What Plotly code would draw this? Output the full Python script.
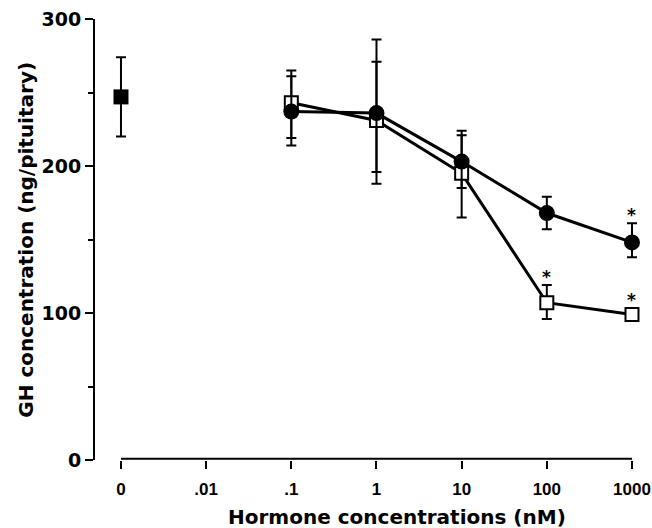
import plotly.graph_objects as go

# ---- data ----
tick_labels = ["0", ".01", ".1", "1", "10", "100", "1000"]

control_x = ["0"]
control_y = [247]
control_err = [27]

open_x = [".1", "1", "10", "100", "1000"]
open_y = [243, 231, 195, 107, 99]
open_err_plus = [22, 40, 29, 12, 0]
open_err_minus = [24, 35, 30, 11, 0]
open_sig = [False, False, False, True, True]

filled_x = [".1", "1", "10", "100", "1000"]
filled_y = [237, 236, 203, 168, 148]
filled_err_plus = [24, 50, 18, 11, 13]
filled_err_minus = [23, 48, 18, 11, 10]
filled_sig = [False, False, False, False, True]

FONT = "DejaVu Sans"
idx = {lab: i for i, lab in enumerate(tick_labels)}

fig = go.Figure()

fig.add_trace(go.Scatter(
    x=[idx[v] for v in control_x], y=control_y, mode="markers",
    marker=dict(symbol="square", size=15, color="black"),
    error_y=dict(type="data", array=control_err, color="black", thickness=2, width=5),
    cliponaxis=False, showlegend=False))

fig.add_trace(go.Scatter(
    x=[idx[v] for v in open_x], y=open_y, mode="lines+markers",
    line=dict(color="black", width=3),
    marker=dict(symbol="square", size=13, color="white", line=dict(color="black", width=2)),
    error_y=dict(type="data", array=open_err_plus, arrayminus=open_err_minus,
                 color="black", thickness=2, width=5),
    cliponaxis=False, showlegend=False))

fig.add_trace(go.Scatter(
    x=[idx[v] for v in filled_x], y=filled_y, mode="lines+markers",
    line=dict(color="black", width=3),
    marker=dict(symbol="circle", size=16, color="black"),
    error_y=dict(type="data", array=filled_err_plus, arrayminus=filled_err_minus,
                 color="black", thickness=2, width=5),
    cliponaxis=False, showlegend=False))

# significance asterisks
for xs, ys, ep, sig in [(open_x, open_y, open_err_plus, open_sig),
                        (filled_x, filled_y, filled_err_plus, filled_sig)]:
    for xv, yv, e, s in zip(xs, ys, ep, sig):
        if s:
            fig.add_annotation(x=idx[xv], y=yv + e, text="*", showarrow=False,
                               yanchor="bottom", yshift=(-4 if e > 0 else 2),
                               font=dict(family=FONT, size=17, color="black", weight="bold"))

# x axis line spanning only the categories
fig.add_shape(type="line", xref="x", yref="paper", x0=0, x1=len(tick_labels) - 1,
              y0=0.003, y1=0.003, line=dict(color="black", width=2))

fig.add_annotation(text="Hormone concentrations (nM)", xref="paper", yref="paper",
                   x=0.554, y=-0.129, xanchor="center", yanchor="middle", showarrow=False,
                   font=dict(family=FONT, size=20, color="black", weight="bold"))
fig.add_annotation(text="GH concentration (ng/pituitary)", xref="paper", yref="paper",
                   x=-0.128, y=0.5, xanchor="center", yanchor="middle", showarrow=False,
                   textangle=-90,
                   font=dict(family=FONT, size=20, color="black", weight="bold"))

fig.update_layout(
    width=652, height=528,
    margin=dict(l=95, r=12, t=19, b=68, autoexpand=False),
    plot_bgcolor="white", paper_bgcolor="white",
    font=dict(family=FONT, color="black"),
    xaxis=dict(range=[-0.305, 6.094], tickmode="array",
               tickvals=list(range(len(tick_labels))), ticktext=tick_labels,
               ticks="outside", ticklen=8, tickwidth=2, tickcolor="black",
               showline=False, showgrid=False, zeroline=False,
               ticklabelstandoff=6, ticklabeloverflow="allow", automargin=False,
               tickfont=dict(family="Liberation Sans", size=17, color="black", weight="bold")),
    yaxis=dict(range=[0, 300], tickvals=[0, 100, 200, 300],
               ticks="outside", ticklen=8, tickwidth=2, tickcolor="black",
               showline=True, linewidth=2, linecolor="black",
               showgrid=False, zeroline=False, automargin=False,
               minor=dict(ticks="outside", ticklen=5, tickwidth=2, tickcolor="black",
                          tickvals=[50, 150, 250], showgrid=False),
               tickfont=dict(family=FONT, size=19, color="black", weight="bold")),
)

fig.write_html("out.html", config={"displayModeBar": False},
               post_script="document.body.style.margin='0';document.body.style.overflow='hidden';")
